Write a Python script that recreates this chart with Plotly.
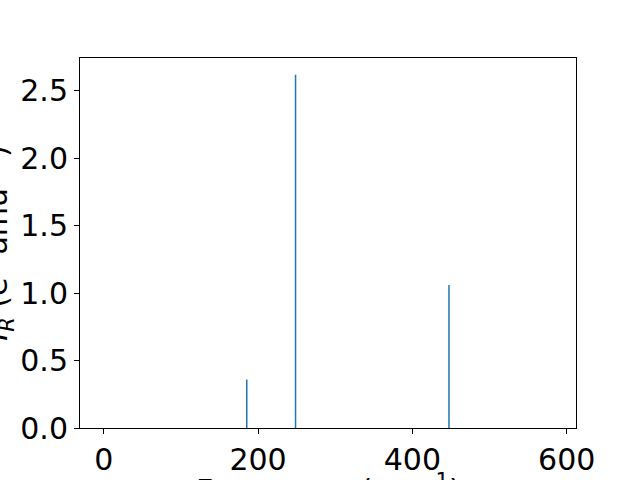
import plotly.graph_objects as go

frequencies = [185.4, 248.6, 447.4]
intensities = [0.359, 2.618, 1.059]
x_ticks = [0, 200, 400, 600]
y_ticks = [0.0, 0.5, 1.0, 1.5, 2.0, 2.5]

xs, ys = [], []
for f, h in zip(frequencies, intensities):
    xs += [f, f, None]
    ys += [0, h, None]

fig = go.Figure()
fig.add_trace(go.Scatter(x=xs, y=ys, mode="lines",
                         line=dict(color="#1f77b4", width=1.5),
                         showlegend=False, hoverinfo="skip"))

font = dict(family="DejaVu Sans", size=30, color="black")
axis_common = dict(showline=True, linecolor="black", linewidth=1, mirror=True,
                   ticks="outside", ticklen=5, tickwidth=1, tickcolor="black",
                   showgrid=False, zeroline=False, tickfont=font,
                   automargin=False)

fig.update_layout(
    width=640, height=480,
    margin=dict(l=80, r=64, t=58, b=52),
    paper_bgcolor="white", plot_bgcolor="white",
    xaxis=dict(range=[-30.7, 612.0], tickvals=x_ticks,
               ticktext=[str(v) for v in x_ticks], **axis_common),
    yaxis=dict(range=[0, 2.742], tickvals=y_ticks,
               ticktext=[f"{v:.1f}" for v in y_ticks], **axis_common),
    annotations=[
        dict(text="Frequency (cm<sup>−1</sup>)", xref="paper", yref="paper",
             x=0.5, y=-0.106, xanchor="center", yanchor="top",
             showarrow=False, font=font),
        dict(text="<i>I<sub>R</sub></i> (e<sup>2</sup> amu<sup>−1</sup>)",
             xref="paper", yref="paper", x=-0.168, y=0.5,
             xanchor="center", yanchor="middle", textangle=-90,
             showarrow=False, font=font),
    ],
)

fig.write_html("out.html", config={"displayModeBar": False},
               post_script="document.body.style.margin='0';document.body.style.overflow='hidden';")
